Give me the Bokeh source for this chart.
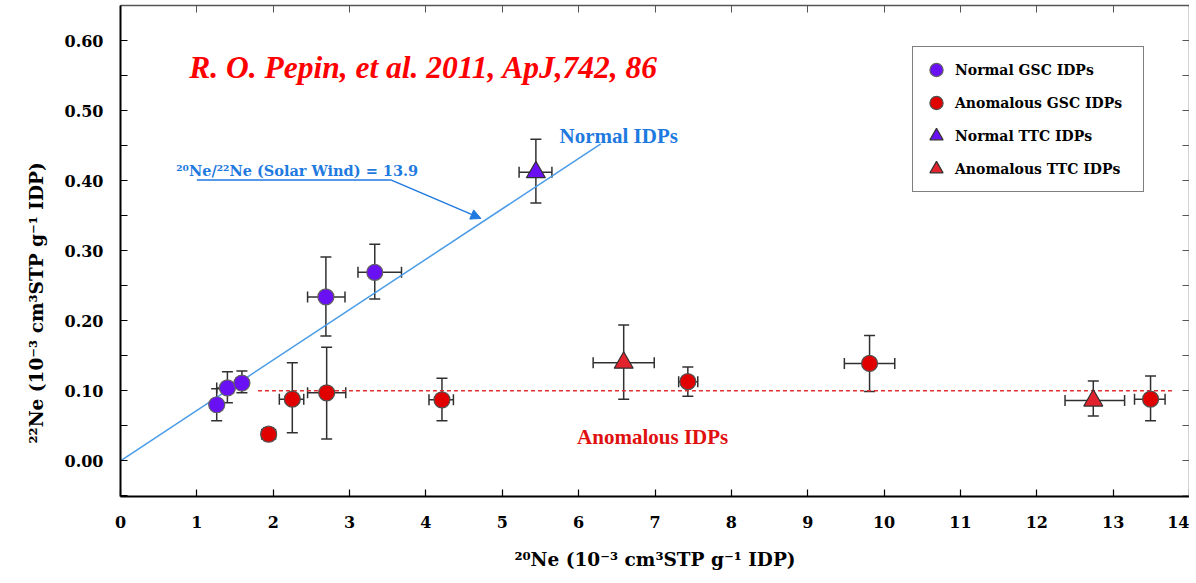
from bokeh.plotting import figure
from bokeh.models import (ColumnDataSource, Whisker, TeeHead, Legend, LegendItem, Label,
                          Arrow, NormalHead, LinearAxis, Range1d, FixedTicker,
                          NumeralTickFormatter, Title)
from bokeh.embed import file_html
from bokeh.resources import INLINE

# ---------------- data (10^-3 cm3 STP g^-1 IDP) ----------------
ngsc_x    = [1.26, 1.40, 1.59, 2.69, 3.33]
ngsc_y    = [0.080, 0.104, 0.111, 0.234, 0.269]
ngsc_xlo  = [1.23, 1.26, 1.52, 2.45, 3.11]
ngsc_xhi  = [1.29, 1.48, 1.65, 2.94, 3.68]
ngsc_ylo  = [0.057, 0.083, 0.097, 0.178, 0.231]
ngsc_yhi  = [0.103, 0.127, 0.128, 0.291, 0.309]

agsc_x    = [1.94, 2.25, 2.70, 4.21, 7.43, 9.81, 13.49]
agsc_y    = [0.038, 0.088, 0.097, 0.087, 0.113, 0.139, 0.088]
agsc_xlo  = [1.85, 2.08, 2.45, 4.04, 7.31, 9.48, 13.28]
agsc_xhi  = [2.03, 2.40, 2.95, 4.36, 7.56, 10.14, 13.68]
agsc_ylo  = [0.029, 0.040, 0.031, 0.057, 0.092, 0.099, 0.057]
agsc_yhi  = [0.047, 0.140, 0.162, 0.118, 0.134, 0.179, 0.121]

nttc_x    = [5.44]
nttc_y    = [0.412]
nttc_xlo  = [5.22]
nttc_xhi  = [5.65]
nttc_ylo  = [0.368]
nttc_yhi  = [0.459]

attc_x    = [6.59, 12.74]
attc_y    = [0.140, 0.086]
attc_xlo  = [6.19, 12.37]
attc_xhi  = [6.99, 13.15]
attc_ylo  = [0.088, 0.064]
attc_yhi  = [0.194, 0.114]

solar_ratio = 13.9            # 20Ne/22Ne solar wind
solar_x = [0.0, 6.29]
anom_level = 0.10
anom_x = [1.80, 13.80]

x_ticks = list(range(0, 15))
y_ticks = [0.0, 0.1, 0.2, 0.3, 0.4, 0.5, 0.6]
y_minor = [-0.05, 0.05, 0.15, 0.25, 0.35, 0.45, 0.55]

legend_labels = ["Normal GSC IDPs", "Anomalous GSC IDPs", "Normal TTC IDPs", "Anomalous TTC IDPs"]

# ---------------- styles ----------------
FONT = "Liberation Serif"
CFONT = "DejaVu Serif"
PURPLE = "#6a10f5"
RED = "#e00000"
RED_T = "#e2222c"
BLUE_T = "#1f7ae0"
BLUE_L = "#4a9be6"
EB = "#303030"

p = figure(width=1189, height=581, x_range=Range1d(0, 14), y_range=Range1d(-0.051, 0.650),
           output_backend="svg", toolbar_location=None,
           min_border_left=120, min_border_right=0, min_border_top=5, min_border_bottom=85)
p.grid.visible = False
p.outline_line_color = None

xt = FixedTicker(ticks=x_ticks, minor_ticks=[])
yt = FixedTicker(ticks=y_ticks, minor_ticks=y_minor)

for ax in p.xaxis:
    ax.ticker = xt
for ax in p.yaxis:
    ax.ticker = yt
    ax.formatter = NumeralTickFormatter(format="0.00")

for ax in list(p.xaxis) + list(p.yaxis):
    ax.axis_line_color = "black"
    ax.axis_line_width = 2
    ax.major_tick_in = 7
    ax.major_tick_out = 0
    ax.minor_tick_in = 7
    ax.minor_tick_out = 0
    ax.major_tick_line_color = "black"
    ax.minor_tick_line_color = "black"
    ax.major_tick_line_width = 1.2
    ax.minor_tick_line_width = 1.2
    ax.major_label_text_font = CFONT
    ax.major_label_text_font_style = "bold"
    ax.major_label_text_font_size = "16px"
    ax.major_label_text_color = "black"

p.xaxis.major_label_standoff = 19
p.yaxis.major_label_standoff = 17

p.xaxis.axis_label = "²⁰Ne (10⁻³ cm³STP g⁻¹ IDP)"
p.xaxis.axis_label_text_font = CFONT
p.xaxis.axis_label_text_font_style = "bold"
p.xaxis.axis_label_text_font_size = "18.5px"
p.xaxis.axis_label_text_color = "black"
p.xaxis.axis_label_standoff = 18

# y-axis title placed in the left panel (shifted like the original)
p.add_layout(Title(text="²²Ne (10⁻³ cm³STP g⁻¹ IDP)", align="left", offset=53,
                   standoff=30, text_font=CFONT, text_font_style="bold",
                   text_font_size="18.5px", text_color="black"), "left")

# mirrored top / right axes (ticks only)
top = LinearAxis(ticker=xt, major_label_text_font_size="0px", major_label_text_color=None,
                 major_label_standoff=0, major_tick_in=7, major_tick_out=0,
                 axis_line_color="#555555", axis_line_width=1.5, major_tick_line_color="#555555")
p.add_layout(top, "above")
right = LinearAxis(ticker=FixedTicker(ticks=y_ticks + y_minor, minor_ticks=[]),
                   major_label_text_font_size="0px", major_label_text_color=None,
                   major_label_standoff=0, major_tick_in=7, major_tick_out=0,
                   axis_line_color="#555555", axis_line_width=1.5, major_tick_line_color="#555555")
p.add_layout(right, "right")

# ---------------- reference lines ----------------
p.line(x=solar_x, y=[v / solar_ratio for v in solar_x], line_color=BLUE_L, line_width=1.5)
p.line(x=anom_x, y=[anom_level] * len(anom_x), line_color="#e03030", line_width=1.3, line_dash="4 3")

# ---------------- series ----------------
def series(x, y, xlo, xhi, ylo, yhi):
    return ColumnDataSource(dict(x=x, y=y, xlo=xlo, xhi=xhi, ylo=ylo, yhi=yhi))

sources = [series(ngsc_x, ngsc_y, ngsc_xlo, ngsc_xhi, ngsc_ylo, ngsc_yhi),
           series(agsc_x, agsc_y, agsc_xlo, agsc_xhi, agsc_ylo, agsc_yhi),
           series(nttc_x, nttc_y, nttc_xlo, nttc_xhi, nttc_ylo, nttc_yhi),
           series(attc_x, attc_y, attc_xlo, attc_xhi, attc_ylo, attc_yhi)]

def head():
    return TeeHead(size=11, line_color=EB, line_width=1.5)

for src in sources:
    p.add_layout(Whisker(source=src, base="x", lower="ylo", upper="yhi", dimension="height",
                         line_color=EB, line_width=1.5, upper_head=head(), lower_head=head(),
                         level="underlay"))
    p.add_layout(Whisker(source=src, base="y", lower="xlo", upper="xhi", dimension="width",
                         line_color=EB, line_width=1.5, upper_head=head(), lower_head=head(),
                         level="underlay"))

r_ngsc = p.scatter("x", "y", source=sources[0], marker="circle", size=16,
                   fill_color=PURPLE, line_color="#606060", line_width=1.2)
r_agsc = p.scatter("x", "y", source=sources[1], marker="circle", size=16,
                   fill_color=RED, line_color="#505050", line_width=1.2)
r_nttc = p.scatter("x", "y", source=sources[2], marker="triangle", size=19,
                   fill_color=PURPLE, line_color="#303030", line_width=1.2)
r_attc = p.scatter("x", "y", source=sources[3], marker="triangle", size=19,
                   fill_color=RED_T, line_color="#303030", line_width=1.2)

legend = Legend(items=[LegendItem(label=legend_labels[0], renderers=[r_ngsc]),
                       LegendItem(label=legend_labels[1], renderers=[r_agsc]),
                       LegendItem(label=legend_labels[2], renderers=[r_nttc]),
                       LegendItem(label=legend_labels[3], renderers=[r_attc])],
                location=(792, 304), orientation="vertical",
                border_line_color="black", border_line_width=1.5,
                background_fill_color="white", background_fill_alpha=1,
                label_text_font=CFONT, label_text_font_style="bold", label_text_font_size="14px",
                label_text_color="black", padding=6, spacing=0, margin=0,
                glyph_width=34, glyph_height=33, label_height=33, label_standoff=2,
                label_width=182)
p.add_layout(legend)

# ---------------- annotations ----------------
p.add_layout(Label(x=0.90, y=0.561, text="R. O. Pepin, et al. 2011,  ApJ,742, 86",
                   text_font=FONT, text_font_style="bold italic", text_font_size="31.5px",
                   text_color="#ff0000", text_baseline="alphabetic"))
p.add_layout(Label(x=5.75, y=0.464, text="Normal IDPs",
                   text_font=FONT, text_font_style="bold", text_font_size="21px",
                   text_color=BLUE_T, text_baseline="alphabetic"))
p.add_layout(Label(x=5.98, y=0.034, text="Anomalous IDPs",
                   text_font=FONT, text_font_style="bold", text_font_size="21px",
                   text_color="#e01010", text_baseline="alphabetic"))
p.add_layout(Label(x=0.73, y=0.414, text="²⁰Ne/²²Ne (Solar Wind) = 13.9",
                   text_font=CFONT, text_font_style="bold", text_font_size="14.5px",
                   text_color=BLUE_T, text_baseline="alphabetic"))
p.add_layout(Arrow(end=None, x_start=1.0, y_start=0.401, x_end=3.54, y_end=0.401,
                   line_color=BLUE_T, line_width=1.5))
p.add_layout(Arrow(end=NormalHead(size=10, fill_color=BLUE_T, line_color=BLUE_T),
                   x_start=3.54, y_start=0.401, x_end=4.72, y_end=0.346,
                   line_color=BLUE_T, line_width=1.5))

open("out.html", "w").write(file_html(p, INLINE))
